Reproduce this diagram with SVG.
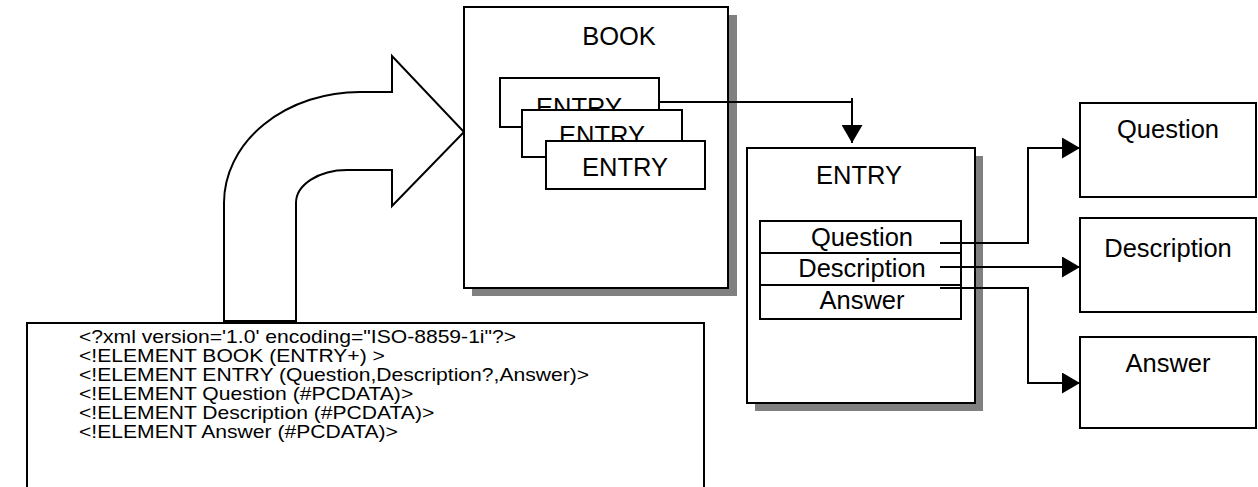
<svg xmlns="http://www.w3.org/2000/svg" width="1258" height="487" viewBox="0 0 1258 487">
<style>
.box{fill:#fff;stroke:#000;stroke-width:2}
.shadow{fill:#808080;stroke:none}
.lbl{font-family:"Liberation Sans",Arial,sans-serif;font-size:25.5px;fill:#000;text-anchor:middle}
.code{font-family:"Liberation Sans",Arial,sans-serif;font-size:17.6px;fill:#000}
.conn{fill:none;stroke:#000;stroke-width:2}
</style>
<defs>
<marker id="ah" viewBox="0 0 18 21" refX="18" refY="10.5" markerWidth="18" markerHeight="21" markerUnits="userSpaceOnUse" orient="auto">
<path d="M0,0 L18,10.5 L0,21 Z" fill="#000"/>
</marker>
</defs>
<rect width="1258" height="487" fill="#fff"/>
<g id="bigarrow">
<path class="box" d="M224,321 L224,203 A136,111 0 0 1 360,92 L392,92 L392,56 L464,132 L392,206 L392,170 L347,170 A51,33 0 0 0 296,203 L296,321 Z"/>
</g>
<g id="dtd">
<rect class="box" x="27" y="323" width="677" height="200"/>
<g transform="translate(79,0) scale(1.2,1)">
<text class="code" x="0" y="343">&lt;?xml version='1.0' encoding="ISO-8859-1i"?&gt;</text>
<text class="code" x="0" y="362">&lt;!ELEMENT BOOK (ENTRY+) &gt;</text>
<text class="code" x="0" y="381">&lt;!ELEMENT ENTRY (Question,Description?,Answer)&gt;</text>
<text class="code" x="0" y="400">&lt;!ELEMENT Question (#PCDATA)&gt;</text>
<text class="code" x="0" y="419">&lt;!ELEMENT Description (#PCDATA)&gt;</text>
<text class="code" x="0" y="438">&lt;!ELEMENT Answer (#PCDATA)&gt;</text>
</g>
</g>
<g id="book">
<rect class="shadow" x="472" y="15" width="265" height="281"/>
<rect class="box" x="464" y="7" width="264" height="281"/>
<text class="lbl" x="619" y="45">BOOK</text>
</g>
<g id="entry1">
<rect class="box" x="500" y="78" width="159" height="49"/>
<text class="lbl" x="579" y="115.5">ENTRY</text>
</g>
<g id="entry2">
<rect class="box" x="522" y="110" width="160" height="47"/>
<text class="lbl" x="602" y="143.5">ENTRY</text>
</g>
<g id="entry3">
<rect class="box" x="546" y="141" width="159" height="48"/>
<text class="lbl" x="625" y="176">ENTRY</text>
</g>
<g id="entry">
<rect class="shadow" x="755" y="156" width="228" height="255"/>
<rect class="box" x="747" y="148" width="228" height="255"/>
<text class="lbl" x="859" y="184">ENTRY</text>
</g>
<g id="fields">
<rect class="box" x="760" y="221" width="201" height="98"/>
<line x1="760" y1="253" x2="961" y2="253" stroke="#000" stroke-width="2"/>
<line x1="760" y1="285" x2="961" y2="285" stroke="#000" stroke-width="2"/>
<text class="lbl" x="862" y="246">Question</text>
<text class="lbl" x="862" y="277">Description</text>
<text class="lbl" x="862" y="309">Answer</text>
</g>
<g id="question">
<rect class="box" x="1080" y="103" width="176" height="94"/>
<text class="lbl" x="1168" y="138">Question</text>
</g>
<g id="description">
<rect class="box" x="1080" y="218" width="176" height="94"/>
<text class="lbl" x="1168" y="257">Description</text>
</g>
<g id="answer">
<rect class="box" x="1080" y="337" width="176" height="91"/>
<text class="lbl" x="1168" y="372">Answer</text>
</g>
<g id="connectors">
<path class="conn" d="M659,102 L852,102"/>
<path class="conn" d="M852,98 L852,143" marker-end="url(#ah)"/>
<path class="conn" d="M940,243 L1028,243 L1028,148 L1080,148" marker-end="url(#ah)"/>
<path class="conn" d="M940,267 L1080,267" marker-end="url(#ah)"/>
<path class="conn" d="M940,288 L1028,288 L1028,383 L1080,383" marker-end="url(#ah)"/>
</g>
</svg>
